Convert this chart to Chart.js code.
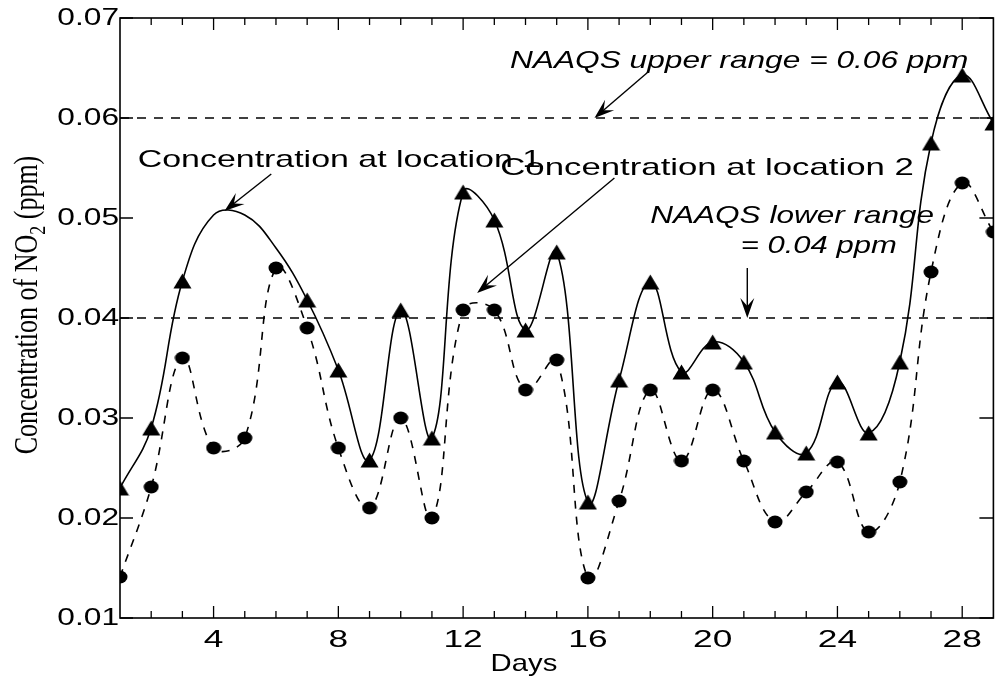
<!DOCTYPE html>
<html>
<head>
<meta charset="utf-8">
<title>Concentration of NO2</title>
<script src="https://cdn.jsdelivr.net/npm/chart.js@4.4.0/dist/chart.umd.min.js"></script>
<style>
  html, body { margin: 0; padding: 0; background: #fff; }
  #wrap { width: 1003px; height: 682px; }
</style>
</head>
<body>
<div id="wrap"><canvas id="no2Chart" width="1003" height="682"></canvas></div>
<script>
// data (ppm per day)
var days = [1, 2, 3, 4, 5, 6, 7, 8, 9, 10, 11, 12, 13, 14, 15, 16, 17, 18, 19, 20, 21, 22, 23, 24, 25, 26, 27, 28, 29];
var location1 = [0.023, 0.029, 0.0437, 0.0503, 0.0503, 0.047, 0.0418, 0.0348, 0.0258, 0.0408, 0.028, 0.0526, 0.0498, 0.0388, 0.0466, 0.0216, 0.0338, 0.0436, 0.0346, 0.0376, 0.0356, 0.0286, 0.0265, 0.0336, 0.0285, 0.0356, 0.0575, 0.0643, 0.0595];
var location2 = [0.0141, 0.0231, 0.036, 0.027, 0.028, 0.045, 0.039, 0.027, 0.021, 0.030, 0.020, 0.0408, 0.0408, 0.0328, 0.0358, 0.014, 0.0217, 0.0328, 0.0257, 0.0328, 0.0257, 0.0196, 0.0226, 0.0256, 0.0186, 0.0236, 0.0446, 0.0535, 0.0486];
var unmarkedDays1 = [4, 5, 6];
var dayTicks = [4, 8, 12, 16, 20, 24, 28];
var ppmTicks = [0.01, 0.02, 0.03, 0.04, 0.05, 0.06, 0.07];
var naaqsUpper = 0.06;
var naaqsLower = 0.04;

// text notes and arrows, placed in data units (day, ppm)
var notes = [
    { text: "NAAQS upper range = 0.06 ppm", italic: true, x: 13.5, y: 0.065, toX: 28.2 },
    { text: "Concentration at location 1", italic: false, x: 1.57, y: 0.0551, toX: 14.5 },
    { text: "Concentration at location 2", italic: false, x: 13.19, y: 0.0543, toX: 26.45 },
    { text: "NAAQS lower range", italic: true, x: 18.0, y: 0.0495, toX: 27.1 },
    { text: "= 0.04 ppm", italic: true, x: 20.9, y: 0.0465, toX: 25.9 }
];
var arrows = [
    { from: [17.93, 0.0646], to: [16.21, 0.0600] },
    { from: [5.85, 0.0544], to: [4.35, 0.0507] },
    { from: [16.85, 0.0540], to: [12.45, 0.0425] },
    { from: [21.11, 0.0450], to: [21.11, 0.0400] }
];

var SX = 1.32; // the figure's lettering is wide
var sansFont = "'Liberation Sans', Arial, Helvetica, sans-serif";
var serifFont = "'Liberation Serif', 'Times New Roman', serif";

function markerCanvas(kind) {
    var c = document.createElement("canvas");
    var g = c.getContext("2d");
    g.fillStyle = "#000";
    if (kind === "triangle") {
        c.width = 19; c.height = 16;
        g.fillStyle = "#000";
        g.beginPath(); g.moveTo(9.5, 0.5); g.lineTo(18.5, 15.5); g.lineTo(0.5, 15.5); g.closePath(); g.fill();
    } else {
        c.width = 16; c.height = 14;
        g.fillStyle = "#000";
        g.beginPath(); g.ellipse(8, 7, 7.5, 6.5, 0, 0, Math.PI * 2); g.fill();
    }
    return c;
}

function toPoints(values) {
    return days.map(function (d, i) { return { x: d, y: values[i] }; });
}

function wideText(ctx, text, x, y, sx, align) {
    var w = ctx.measureText(text).width * sx;
    var left = align === "center" ? x - w / 2 : (align === "right" ? x - w : x);
    ctx.save();
    ctx.translate(left, y);
    ctx.scale(sx, 1);
    ctx.textAlign = "left";
    ctx.fillText(text, 0, 0);
    ctx.restore();
}

function drawArrow(ctx, x1, y1, x2, y2) {
    var a = Math.atan2(y2 - y1, x2 - x1);
    ctx.beginPath();
    ctx.moveTo(x1, y1);
    ctx.lineTo(x2 - Math.cos(a) * 10, y2 - Math.sin(a) * 10);
    ctx.stroke();
    ctx.save();
    ctx.translate(x2, y2);
    ctx.rotate(a);
    ctx.beginPath();
    ctx.moveTo(0, 0);
    ctx.lineTo(-20, -7);
    ctx.lineTo(-12, 0);
    ctx.lineTo(-20, 7);
    ctx.closePath();
    ctx.fill();
    ctx.restore();
}

var figurePlugin = {
    id: "figure",
    afterDraw: function (chart) {
        var ctx = chart.ctx;
        var xs = chart.scales.x, ys = chart.scales.y;
        var a = chart.chartArea;
        ctx.save();
        ctx.strokeStyle = "#000";
        ctx.fillStyle = "#000";

        // frame
        ctx.lineWidth = 1.6;
        ctx.strokeRect(a.left, a.top, a.right - a.left, a.bottom - a.top);

        // inside tick marks
        ctx.lineWidth = 1.3;
        xs.ticks.forEach(function (t) {
            if (t.value <= xs.min || t.value >= xs.max) return;
            var px = xs.getPixelForValue(t.value);
            var len = dayTicks.indexOf(t.value) >= 0 ? 12 : 7;
            ctx.beginPath();
            ctx.moveTo(px, a.bottom); ctx.lineTo(px, a.bottom - len);
            ctx.moveTo(px, a.top); ctx.lineTo(px, a.top + len);
            ctx.stroke();
        });
        ys.ticks.forEach(function (t) {
            var py = ys.getPixelForValue(t.value);
            ctx.beginPath();
            ctx.moveTo(a.left, py); ctx.lineTo(a.left + 13, py);
            ctx.moveTo(a.right, py); ctx.lineTo(a.right - 14, py);
            ctx.stroke();
        });

        // tick labels
        ctx.font = "24px " + sansFont;
        ctx.textBaseline = "middle";
        ys.ticks.forEach(function (t) {
            wideText(ctx, t.label, a.left - 1, ys.getPixelForValue(t.value), SX, "right");
        });
        xs.ticks.forEach(function (t) {
            if (!t.label) return;
            wideText(ctx, t.label, xs.getPixelForValue(t.value), a.bottom + 22, SX + 0.15, "center");
        });

        // axis titles
        ctx.font = "24px " + sansFont;
        wideText(ctx, "Days", xs.getPixelForValue(13.95), a.bottom + 46, 1.22, "center");

        ctx.save();
        ctx.translate(a.left - 93, (a.top + a.bottom) / 2 - 13);
        ctx.scale(1.3, 1);
        ctx.rotate(-Math.PI / 2);
        ctx.textBaseline = "alphabetic";
        ctx.textAlign = "left";
        var big = "26px " + serifFont, small = "18px " + serifFont;
        var p1 = "Concentration of NO", p2 = "2", p3 = " (ppm)";
        ctx.font = big; var w1 = ctx.measureText(p1).width, w3 = ctx.measureText(p3).width;
        ctx.font = small; var w2 = ctx.measureText(p2).width;
        var x0 = -(w1 + w2 + w3) / 2;
        ctx.font = big; ctx.fillText(p1, x0, 8);
        ctx.font = small; ctx.fillText(p2, x0 + w1, 14);
        ctx.font = big; ctx.fillText(p3, x0 + w1 + w2, 8);
        ctx.restore();

        // notes
        ctx.textBaseline = "alphabetic";
        notes.forEach(function (n) {
            ctx.font = (n.italic ? "italic " : "") + "24px " + sansFont;
            var x1 = xs.getPixelForValue(n.x), x2 = xs.getPixelForValue(n.toX);
            var sx = (x2 - x1) / ctx.measureText(n.text).width;
            wideText(ctx, n.text, x1, ys.getPixelForValue(n.y), sx, "left");
        });

        // arrows
        ctx.lineWidth = 1.4;
        arrows.forEach(function (ar) {
            drawArrow(ctx,
                xs.getPixelForValue(ar.from[0]), ys.getPixelForValue(ar.from[1]),
                xs.getPixelForValue(ar.to[0]), ys.getPixelForValue(ar.to[1]));
        });
        ctx.restore();
    }
};

var triangleImg = markerCanvas("triangle");
var dotImg = markerCanvas("dot");

new Chart(document.getElementById("no2Chart").getContext("2d"), {
    type: "line",
    data: {
        datasets: [
            {
                label: "NAAQS upper range",
                data: [{ x: days[0], y: naaqsUpper }, { x: days[days.length - 1], y: naaqsUpper }],
                borderColor: "#000",
                borderWidth: 1.5,
                borderDash: [9, 8],
                pointRadius: 0,
                tension: 0
            },
            {
                label: "NAAQS lower range",
                data: [{ x: days[0], y: naaqsLower }, { x: days[days.length - 1], y: naaqsLower }],
                borderColor: "#000",
                borderWidth: 1.5,
                borderDash: [9, 8],
                pointRadius: 0,
                tension: 0
            },
            {
                label: "Concentration at location 2",
                data: toPoints(location2),
                borderColor: "#000",
                borderWidth: 1.6,
                borderDash: [8, 8],
                pointStyle: dotImg,
                pointRadius: 7,
                tension: 0.4
            },
            {
                label: "Concentration at location 1",
                data: toPoints(location1),
                borderColor: "#000",
                borderWidth: 1.6,
                pointStyle: triangleImg,
                pointRadius: days.map(function (d) { return unmarkedDays1.indexOf(d) >= 0 ? 0 : 8; }),
                tension: 0.4
            }
        ]
    },
    options: {
        responsive: false,
        animation: false,
        events: [],
        layout: { padding: { top: 18, right: 3, left: 0, bottom: 0 } },
        plugins: { legend: { display: false }, tooltip: { enabled: false } },
        scales: {
            x: {
                type: "linear",
                min: 1,
                max: 29,
                grid: { display: false },
                border: { display: false },
                afterBuildTicks: function (scale) {
                    scale.ticks = days.map(function (d) { return { value: d }; });
                },
                ticks: {
                    display: false,
                    callback: function (v) { return dayTicks.indexOf(v) >= 0 ? String(v) : ""; }
                },
                afterFit: function (scale) { scale.height = 64; }
            },
            y: {
                min: 0.01,
                max: 0.07,
                grid: { display: false },
                border: { display: false },
                afterBuildTicks: function (scale) {
                    scale.ticks = ppmTicks.map(function (v) { return { value: v }; });
                },
                ticks: {
                    display: false,
                    callback: function (v) { return v.toFixed(2); }
                },
                afterFit: function (scale) { scale.width = 120; }
            }
        }
    },
    plugins: [figurePlugin]
});
</script>
</body>
</html>
